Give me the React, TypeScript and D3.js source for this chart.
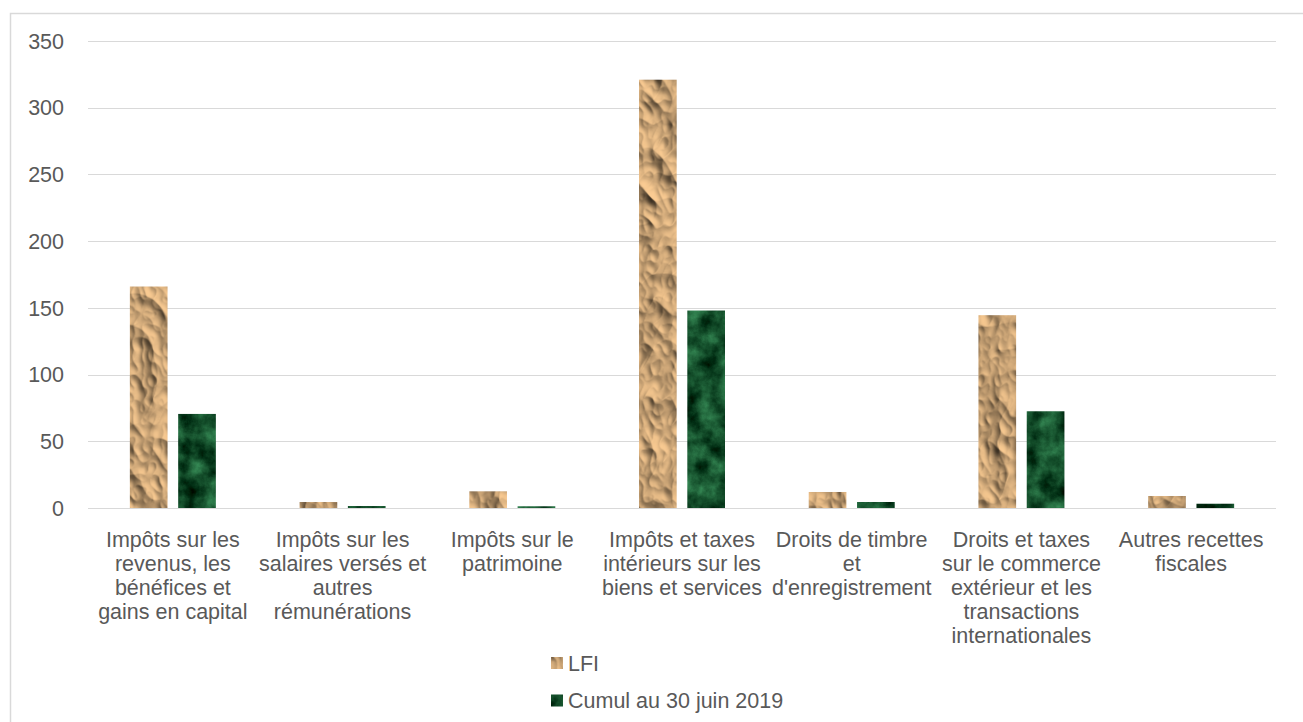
import { useEffect, useRef } from 'react';
import * as d3 from 'd3';

// Data
const categories = [
  'Impôts sur les revenus, les bénéfices et gains en capital',
  'Impôts sur les salaires versés et autres rémunérations',
  'Impôts sur le patrimoine',
  'Impôts et taxes intérieurs sur les biens et services',
  "Droits de timbre et d'enregistrement",
  'Droits et taxes sur le commerce extérieur et les transactions internationales',
  'Autres recettes fiscales',
];

const categoryLines = [
  ['Impôts sur les', 'revenus, les', 'bénéfices et', 'gains en capital'],
  ['Impôts sur les', 'salaires versés et', 'autres', 'rémunérations'],
  ['Impôts sur le', 'patrimoine'],
  ['Impôts et taxes', 'intérieurs sur les', 'biens et services'],
  ['Droits de timbre', 'et', "d'enregistrement"],
  ['Droits et taxes', 'sur le commerce', 'extérieur et les', 'transactions', 'internationales'],
  ['Autres recettes', 'fiscales'],
];

const seriesNames = ['LFI', 'Cumul au 30 juin 2019'];
const lfiValues = [166, 4.5, 12.5, 321, 12, 144.5, 9];
const cumulValues = [70.5, 1.5, 1.3, 148, 4.5, 72.5, 3.2];
const yTicks = [0, 50, 100, 150, 200, 250, 300, 350];

const W = 1303;
const H = 722;
const FONT = '"Liberation Sans", Arial, sans-serif';
const FS = '21.5px';
const TEXT = '#595959';
const GRID = '#d9d9d9';

const App = () => {
  const svgRef = useRef<SVGSVGElement>(null);

  useEffect(() => {
    if (!svgRef.current) return;
    const svg = d3.select(svgRef.current);
    svg.selectAll('*').remove();

    // texture filters (crumpled paper / green marble)
    const defs = svg.append('defs');

    const paper = defs.append('filter')
      .attr('id', 'paper')
      .attr('color-interpolation-filters', 'sRGB');
    paper.append('feTurbulence')
      .attr('type', 'turbulence')
      .attr('baseFrequency', '0.026 0.02')
      .attr('numOctaves', 3)
      .attr('seed', 5)
      .attr('result', 'noise');
    const lit = paper.append('feDiffuseLighting')
      .attr('in', 'noise')
      .attr('surfaceScale', 5)
      .attr('diffuseConstant', 1.1)
      .attr('lighting-color', '#e4b985')
      .attr('result', 'lit');
    lit.append('feDistantLight').attr('azimuth', 135).attr('elevation', 52);
    paper.append('feComposite')
      .attr('in', 'lit')
      .attr('in2', 'SourceAlpha')
      .attr('operator', 'in');

    const marble = defs.append('filter')
      .attr('id', 'marble')
      .attr('color-interpolation-filters', 'sRGB');
    marble.append('feTurbulence')
      .attr('type', 'fractalNoise')
      .attr('baseFrequency', '0.05')
      .attr('numOctaves', 5)
      .attr('seed', 3)
      .attr('result', 'noise');
    marble.append('feColorMatrix')
      .attr('in', 'noise')
      .attr('type', 'matrix')
      .attr('values', '0.4 0 0 0 -0.12  0.7 0 0 0 -0.04  0.5 0 0 0 -0.08  0 0 0 0 1')
      .attr('result', 'col');
    marble.append('feComposite')
      .attr('in', 'col')
      .attr('in2', 'SourceAlpha')
      .attr('operator', 'in');

    const fills = ['url(#paper)', 'url(#marble)'];
    const baseColors = ['#d2b084', '#1b5a34'];

    // outer frame
    svg.append('rect')
      .attr('x', 10.5).attr('y', 13.5)
      .attr('width', W + 20).attr('height', H + 20)
      .attr('fill', 'white')
      .attr('stroke', GRID)
      .attr('stroke-width', 1.5);

    // scales
    const x0 = d3.scaleBand<string>()
      .domain(categories)
      .range([88, 1276])
      .padding(0);

    const x1 = d3.scaleBand<string>()
      .domain(seriesNames)
      .range([-43, 43])
      .paddingInner(0.22);

    const y = d3.scaleLinear()
      .domain([0, 350])
      .range([508, 41]);

    // grid
    svg.append('g')
      .selectAll('line')
      .data(yTicks)
      .enter()
      .append('line')
      .attr('x1', 88).attr('x2', 1276)
      .attr('y1', d => Math.round(y(d)) + 0.5)
      .attr('y2', d => Math.round(y(d)) + 0.5)
      .attr('stroke', GRID)
      .attr('stroke-width', 1);

    // y labels
    svg.append('g')
      .selectAll('text')
      .data(yTicks)
      .enter()
      .append('text')
      .attr('x', 64)
      .attr('y', d => y(d))
      .attr('dy', '0.36em')
      .attr('text-anchor', 'end')
      .attr('font-family', FONT)
      .attr('font-size', FS)
      .attr('fill', TEXT)
      .text(d => d);

    // bars
    const series = [lfiValues, cumulValues];
    series.forEach((vals, si) => {
      svg.append('g')
        .selectAll('rect')
        .data(vals)
        .enter()
        .append('rect')
        .attr('x', (_, i) => x0(categories[i])! + x0.bandwidth() / 2 + x1(seriesNames[si])!)
        .attr('y', d => y(d))
        .attr('width', x1.bandwidth())
        .attr('height', d => y(0) - y(d))
        .attr('fill', baseColors[si])
        .attr('filter', fills[si]);
    });

    // category labels
    const lab = svg.append('g')
      .selectAll('text')
      .data(categoryLines)
      .enter()
      .append('text')
      .attr('text-anchor', 'middle')
      .attr('font-family', FONT)
      .attr('font-size', FS)
      .attr('fill', TEXT);
    lab.each(function (lines, i) {
      const cx = x0(categories[i])! + x0.bandwidth() / 2;
      d3.select(this)
        .selectAll('tspan')
        .data(lines)
        .enter()
        .append('tspan')
        .attr('x', cx)
        .attr('y', (_, j) => 547 + j * 24)
        .text(d => d);
    });

    // legend
    const legend = svg.append('g');
    seriesNames.forEach((name, i) => {
      const ly = 663 + i * 37.5;
      legend.append('rect')
        .attr('x', 551).attr('y', ly - 6)
        .attr('width', 12).attr('height', 12)
        .attr('fill', baseColors[i])
        .attr('filter', fills[i]);
      legend.append('text')
        .attr('x', 568)
        .attr('y', ly)
        .attr('dy', '0.36em')
        .attr('font-family', FONT)
        .attr('font-size', FS)
        .attr('fill', TEXT)
        .text(name);
    });
  }, []);

  return (
    <svg
      ref={svgRef}
      width={W}
      height={H}
      style={{ position: 'absolute', left: 0, top: 0, background: 'white' }}
    ></svg>
  );
};

export default App;
